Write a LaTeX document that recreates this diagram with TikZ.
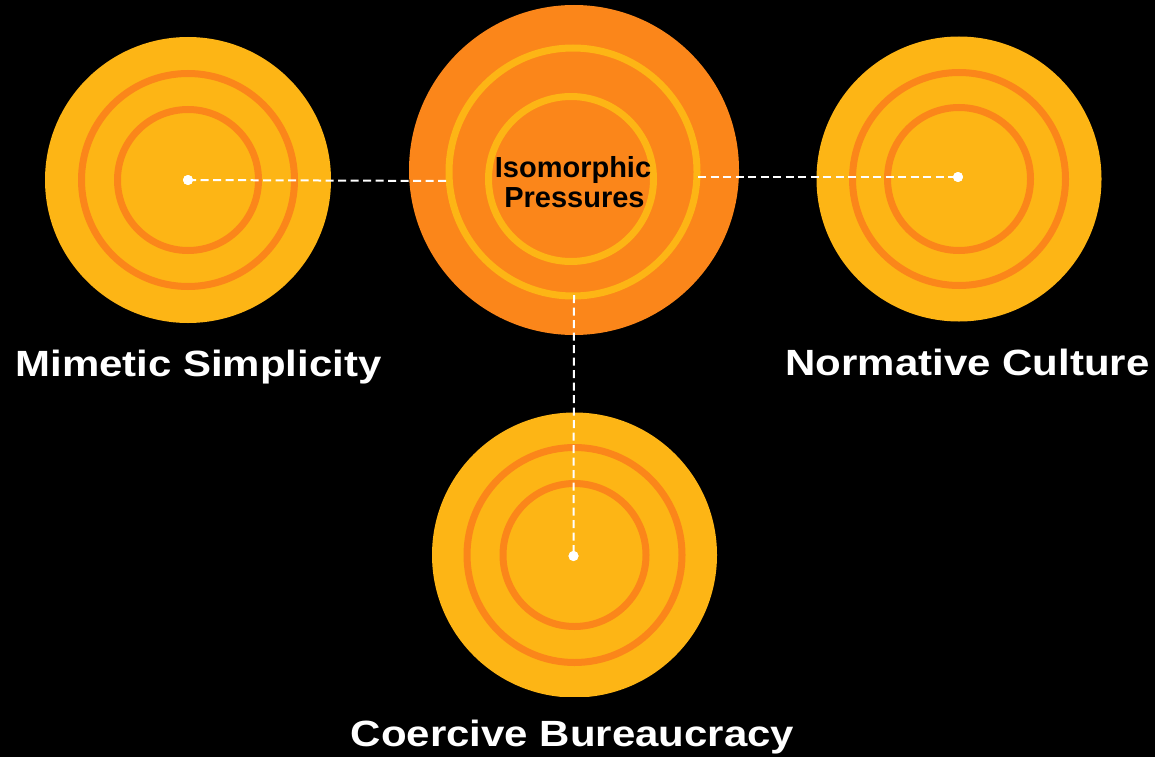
\documentclass[tikz,border=0pt]{standalone}
\usepackage{fontspec}
\usepackage{graphicx}
\setmainfont{Liberation Sans}
\newfontfamily\labelfont{Liberation Sans Bold}
\newfontfamily\hubfont{Liberation Sans Bold}
\definecolor{sunyellow}{HTML}{FDB515}
\definecolor{deeporange}{HTML}{FB861A}
\newcommand{\widetext}[1]{\scalebox{1.15}[1]{#1}}
\begin{document}
\begin{tikzpicture}[x=1pt,y=-1pt,
  disc/.style={fill=sunyellow},
  ringline/.style={draw=deeporange,line width=7pt},
  hubring/.style={draw=sunyellow,line width=7pt},
  link/.style={draw=white,line width=2pt,dash pattern=on 8pt off 4.5pt},
  dotnode/.style={circle,fill=white,inner sep=0pt,minimum size=10pt},
  lbl/.style={text=white,inner sep=0pt,anchor=base,font=\labelfont\fontsize{36.5}{40}\selectfont},
  hubtext/.style={text=black,inner sep=0pt,anchor=base,font=\hubfont\fontsize{29}{30}\selectfont}]
\fill[black] (0,0) rectangle (1155,757);
\useasboundingbox (0,0) rectangle (1155,757);
% left circle
\fill[disc] (188,180) circle (143);
\draw[ringline] (188,180) circle (106.5);
\draw[ringline] (188,180) circle (70.5);
% right circle
\fill[disc] (959,179) circle (142.5);
\draw[ringline] (959,179) circle (106.5);
\draw[ringline] (959,179) circle (71.5);
% bottom circle (clipped at the bottom)
\begin{scope}
\clip (0,0) rectangle (1155,696.5);
\fill[disc] (574.5,555) circle (142.5);
\draw[ringline] (574.5,555) circle (107.5);
\draw[ringline] (574.5,555) circle (71.5);
\end{scope}
% hub circle
\fill[deeporange] (574,170) circle (165);
\draw[hubring] (573,172) circle (124);
\draw[hubring] (571,179) circle (82.5);
% connector ends and dots
\node[dotnode] (mdot) at (188,180) {};
\node[dotnode] (ndot) at (958,177) {};
\node[dotnode] (cdot) at (573.5,556) {};
\coordinate (hubleft) at (450,181);
\coordinate (hubright) at (698,177);
\coordinate (hubbottom) at (574,295);
\draw[link] (mdot.center) -- (hubleft);
\draw[link] (hubright) -- (ndot.center);
\draw[link] (hubbottom) -- (cdot.center);
\node[dotnode] at (mdot.center) {};
\node[dotnode] at (ndot.center) {};
\node[dotnode] at (cdot.center) {};
% hub text
\node[hubtext] (hub1) at (573,177) {Isomorphic};
\node[hubtext] (hub2) at (574.5,207) {Pressures};
% labels
\node[lbl] (mimetic) at (198.5,376.5) {\widetext{Mimetic Simplicity}};
\node[lbl] (normative) at (967.5,375.5) {\widetext{Normative Culture}};
\node[lbl] (coercive) at (572.5,746) {\widetext{Coercive Bureaucracy}};
\end{tikzpicture}
\end{document}
